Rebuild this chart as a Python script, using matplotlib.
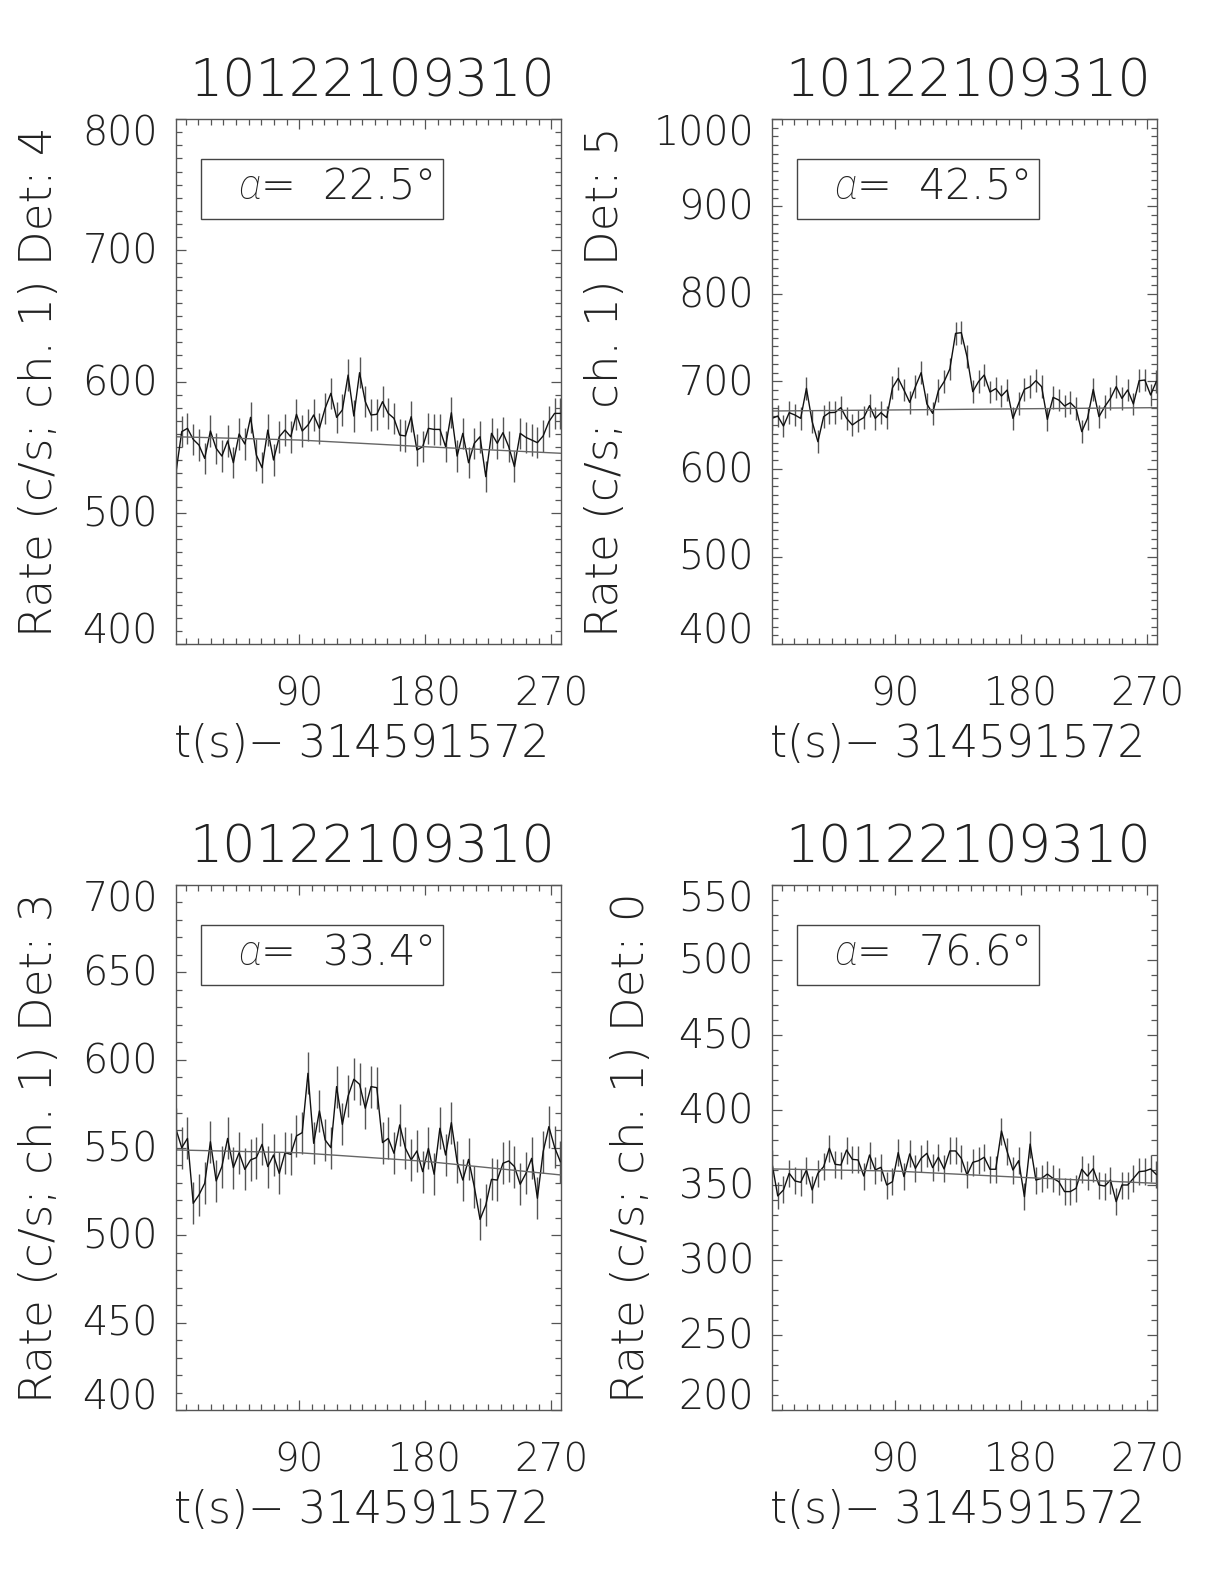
import numpy as np
import matplotlib
matplotlib.use('Agg')
import matplotlib.pyplot as plt
import matplotlib.transforms as mtransforms
from matplotlib.patches import Rectangle
from matplotlib.ticker import MultipleLocator

plt.rcParams['font.family'] = ['DejaVu Sans']
plt.rcParams['font.weight'] = 'ultralight'
plt.rcParams['mathtext.fontset'] = 'custom'
plt.rcParams['mathtext.it'] = 'Roboto:italic:light'
plt.rcParams['mathtext.rm'] = 'DejaVu Sans:ultralight'

# 공통 정보
obs_id = '10122109310'
t_ref = '314591572'
t_start = 2.1      # 첫 bin 시각 (s)
bin_dt = 4.096     # bin 폭 (s)
t_end = 277.0

# Det 4
rate1 = [531.0, 561.8, 564.3, 555.9, 551.6, 541.4, 562.3, 549.1, 543.2, 554.7,
         538.1, 560.0, 552.4, 572.7, 544.0, 534.3, 563.0, 540.2, 557.9, 563.0,
         557.9, 575.0, 562.3, 566.8, 574.5, 564.3, 579.6, 591.0, 572.7, 578.3,
         604.9, 573.7, 606.7, 584.6, 574.5, 575.0, 584.6, 575.7, 571.9, 559.2,
         558.5, 573.2, 547.8, 550.3, 564.3, 563.5, 563.5, 550.3, 576.2, 543.2,
         560.5, 538.1, 552.9, 557.9, 527.5, 560.5, 552.9, 561.0, 550.3, 535.1,
         560.5, 557.4, 555.4, 553.4, 558.5, 569.4, 575.7, 575.7]
# Det 5
rate2 = [657.9, 660.5, 649.1, 664.4, 661.7, 657.9, 692.2, 654.1, 631.2, 659.8,
         664.4, 664.7, 670.1, 657.9, 650.3, 654.9, 658.7, 672.4, 657.9, 664.4,
         658.7, 692.9, 703.6, 690.3, 676.2, 694.1, 710.1, 674.3, 663.6, 689.5,
         699.8, 714.3, 755.0, 755.8, 728.4, 688.4, 699.8, 707.4, 688.0, 691.8,
         683.4, 690.3, 657.9, 675.0, 691.0, 694.1, 700.9, 694.1, 656.7, 681.9,
         678.8, 672.0, 675.8, 669.3, 642.7, 657.9, 691.0, 659.8, 671.2, 680.7,
         694.1, 680.7, 690.3, 674.3, 700.9, 701.7, 684.6, 700.0]
# Det 3
rate3 = [560.4, 549.9, 555.2, 518.1, 522.9, 529.5, 553.3, 530.9, 539.1, 555.2,
         538.5, 547.0, 537.5, 542.9, 544.2, 551.8, 539.1, 545.7, 535.2, 547.0,
         546.1, 556.6, 558.5, 592.4, 552.4, 570.9, 554.3, 549.9, 584.8, 563.2,
         579.4, 589.0, 586.1, 572.4, 584.8, 584.2, 552.8, 555.2, 546.7, 562.9,
         549.5, 542.9, 548.0, 536.2, 549.5, 534.7, 561.0, 545.7, 564.2, 541.9,
         531.4, 543.2, 527.6, 508.9, 517.1, 531.8, 531.4, 541.0, 542.3, 539.1,
         529.0, 535.2, 543.8, 521.0, 547.6, 561.9, 550.1, 541.9]
# Det 0
rate4 = [364.5, 342.7, 346.7, 357.8, 352.7, 351.8, 360.0, 346.7, 357.8, 362.2,
         374.5, 363.8, 363.3, 373.3, 367.1, 366.7, 356.0, 370.0, 360.0, 361.8,
         350.0, 352.2, 371.6, 355.6, 370.7, 361.1, 367.8, 371.1, 361.6, 368.5,
         360.7, 372.7, 372.7, 367.8, 356.7, 365.1, 366.2, 368.5, 360.5, 360.5,
         386.0, 372.2, 360.0, 366.2, 342.2, 377.3, 353.3, 354.4, 357.3, 354.4,
         352.2, 345.6, 345.6, 347.8, 360.5, 356.0, 360.9, 350.0, 349.3, 353.3,
         338.9, 350.0, 350.0, 354.4, 358.9, 359.3, 360.7, 357.0]

errs = [12.0, 13.0, 12.0, 9.0]          # 오차 막대 반길이
dets = [4, 5, 3, 0]
alphas = [22.5, 42.5, 33.4, 76.6]
ylims = [(400, 800), (400, 1000), (400, 700), (200, 550)]
ysteps = [100, 100, 50, 50]

# 배경 fit 선 (knot)
bkg_t = [2.1, 90, 180, 277]
bkg1 = [557.9, 555.4, 550.3, 545.3]
bkg2 = [666.3, 667.5, 668.8, 670.1]
bkg3 = [548.6, 547.0, 542.1, 534.3]
bkg4 = [360.7, 359.3, 355.1, 351.1]

rates = [rate1, rate2, rate3, rate4]
bkgs = [bkg1, bkg2, bkg3, bkg4]
xticks = [90, 180, 270]

W, H = 1224, 1584
fig = plt.figure(figsize=(W / 100, H / 100), dpi=100)

# 축 위치 (픽셀)
ax_left = [176, 772, 176, 772]
ax_top = [119, 119, 885, 885]
ax_w, ax_h = 385, 525
ylab_x = [-0.322, -0.400, -0.322, -0.332]

txt_c = '#222222'
ax_c = '#555555'
half_cap = 13.5 / ax_h   # y 눈금 라벨 높이의 절반 (축 비율)

for i in range(4):
    ax = fig.add_axes([ax_left[i] / W, 1 - (ax_top[i] + ax_h) / H, ax_w / W, ax_h / H])
    t = t_start + bin_dt * np.arange(len(rates[i]))
    r = np.array(rates[i])
    ax.vlines(t, r - errs[i], r + errs[i], color='#555555', lw=1.0)
    ax.plot(t, r, color='#111111', lw=1.0)
    ax.plot(bkg_t, bkgs[i], color='#666666', lw=1.0)

    ymin, ymax = ylims[i]
    ax.set_xlim(t_start, t_end)
    ax.set_ylim(ymin, ymax)
    ax.xaxis.set_major_locator(MultipleLocator(90))
    ax.xaxis.set_minor_locator(MultipleLocator(9))
    ax.yaxis.set_major_locator(MultipleLocator(ysteps[i]))
    ax.yaxis.set_minor_locator(MultipleLocator(10))
    ax.tick_params(which='both', direction='in', top=True, right=True,
                   labelbottom=False, labelleft=False, color=ax_c, width=0.9)
    ax.tick_params(which='major', length=7)
    ax.tick_params(which='minor', length=4)
    for s in ax.spines.values():
        s.set_color(ax_c)
        s.set_linewidth(1.0)

    # 눈금 라벨 (IDL 스타일: 양 끝 라벨은 축 안쪽으로)
    trans = mtransforms.blended_transform_factory(ax.transData, ax.transAxes)
    for v in xticks:
        ax.text(v, -0.118, str(v), transform=trans, ha='center', va='baseline',
                fontsize=28, color=txt_c)
    for v in range(ymin, ymax + 1, ysteps[i]):
        frac = (v - ymin) / (ymax - ymin)
        frac = min(max(frac, half_cap), 1 - half_cap) - half_cap
        ax.text(-18 / ax_w, frac, str(v), transform=ax.transAxes, ha='right',
                va='baseline', fontsize=28.5, color=txt_c)

    ax.text(0.51, 1.042, obs_id, transform=ax.transAxes, ha='center',
            va='baseline', fontsize=37.5, color=txt_c)
    ax.text(0.481, -0.215, 't(s)\u2212 ' + t_ref, transform=ax.transAxes,
            ha='center', va='baseline', fontsize=31.5, color=txt_c)
    ax.text(ylab_x[i], 0.50, 'Rate (c/s; ch. 1) Det: %d' % dets[i],
            transform=ax.transAxes, rotation=90, rotation_mode='anchor',
            ha='center', va='baseline', fontsize=32.5, color=txt_c)

    ax.add_patch(Rectangle((0.065, 0.810), 0.629, 0.114, transform=ax.transAxes,
                           fill=False, lw=1.0, ec='#444444'))
    ax.text(0.161, 0.848, r'$\alpha$=  ' + '%.1f\u00b0' % alphas[i],
            transform=ax.transAxes, ha='left', va='baseline', fontsize=30,
            color=txt_c)

fig.savefig('out.png', dpi=100)
